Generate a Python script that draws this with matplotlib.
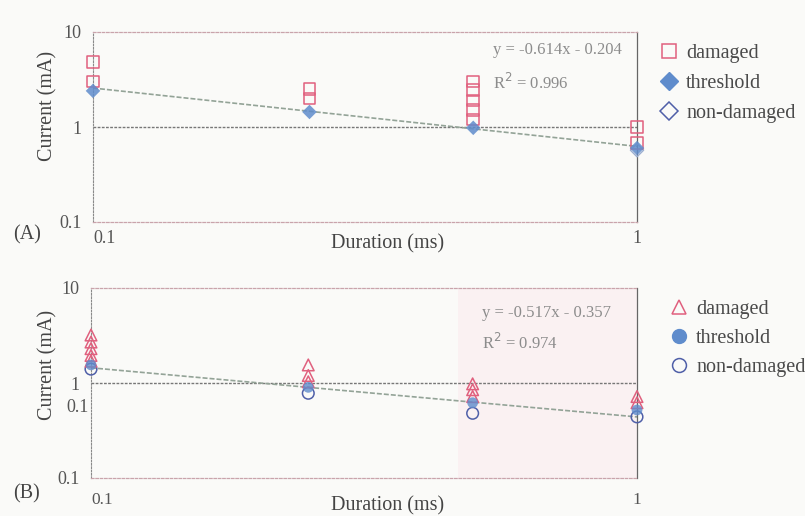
import numpy as np
import matplotlib
matplotlib.use("Agg")
import matplotlib.pyplot as plt
from matplotlib.lines import Line2D

plt.rcParams['font.family'] = ['Liberation Serif', 'DejaVu Serif']

# ---------------- data ----------------
durations = [0.1, 0.25, 0.5, 1.0]

# Panel A
a_dam_x = [0.1, 0.1, 0.25, 0.25, 0.5, 0.5, 0.5, 0.5, 0.5, 1.0, 1.0]
a_dam_y = [4.8, 3.0, 2.5, 2.0, 3.0, 2.45, 1.9, 1.5, 1.2, 1.0, 0.68]
a_thr_y = [2.4, 1.44, 0.98, 0.6]
a_non_x = [1.0]
a_non_y = [0.57]
a_slope, a_icpt = -0.614, -0.204
a_eq = ["y = -0.614x - 0.204", "R$^2$ = 0.996"]

# Panel B
b_dam_x = [0.1, 0.1, 0.1, 0.1, 0.1, 0.25, 0.25, 0.25, 0.5, 0.5, 0.5, 1.0, 1.0]
b_dam_y = [3.2, 2.7, 2.3, 1.95, 1.7, 1.55, 1.2, 1.03, 0.98, 0.85, 0.72, 0.72, 0.62]
b_thr_y = [1.55, 0.9, 0.62, 0.52]
b_non_y = [1.4, 0.78, 0.48, 0.44]
b_slope, b_icpt = -0.517, -0.357
b_eq = ["y = -0.517x - 0.357", "R$^2$ = 0.974"]

legend_labels = ["damaged", "threshold", "non-damaged"]

# ---------------- style ----------------
W, H = 805, 516
PINK = '#e0607e'
BLUE = '#5f8ccc'
NAVY = '#4f5fa8'
TXT = '#555555'
TREND = '#93a397'
BG = '#fafaf8'

fig = plt.figure(figsize=(W / 100, H / 100), dpi=100, facecolor=BG)


def fx(px):
    return px / W


def fy(py):
    return 1 - py / H


def make_axes(left, right, top, bottom):
    ax = fig.add_axes([fx(left), fy(bottom), fx(right) - fx(left), fy(top) - fy(bottom)])
    ax.set_facecolor(BG)
    ax.set_xscale('log')
    ax.set_yscale('log')
    ax.set_xlim(0.1, 1)
    ax.set_ylim(0.1, 10)
    for s in ['top', 'bottom']:
        ax.spines[s].set_linestyle((0, (2, 1.5)))
        ax.spines[s].set_color('#c9a3ab')
        ax.spines[s].set_linewidth(0.9)
    ax.spines['left'].set_linestyle((0, (1.5, 1.5)))
    ax.spines['left'].set_color('#8a8a8a')
    ax.spines['left'].set_linewidth(0.8)
    ax.spines['right'].set_color('#666666')
    ax.spines['right'].set_linewidth(0.9)
    ax.minorticks_off()
    ax.set_yticks([0.1, 1, 10])
    ax.set_yticklabels(['0.1', '1', '10'])
    ax.set_xticks([0.1, 1])
    ax.set_xticklabels(['0.1', '1'])
    ax.tick_params(axis='both', length=0, colors=TXT, labelsize=13)
    ax.tick_params(axis='y', pad=8)
    return ax


def common(ax, thr_y, slope, icpt):
    # reference line at 1 mA
    ax.axhline(1, color='#777777', lw=1.0, ls=(0, (2, 1)), zorder=1)
    # trend line (log-log fit)
    xs = np.array([durations[0], durations[-1]])
    ys = 10 ** (slope * np.log10(xs) + icpt)
    ax.plot(xs, ys, color=TREND, lw=1.2, ls=(0, (3, 1.2)), zorder=2)


# ---------------- Panel A ----------------
axA = make_axes(93, 637, 32, 222)
common(axA, a_thr_y, a_slope, a_icpt)
axA.scatter(a_dam_x, a_dam_y, marker='s', s=70, facecolors='none',
            edgecolors=PINK, linewidths=1.1, zorder=4, clip_on=False)
axA.scatter(durations, a_thr_y, marker='D', s=55, color=BLUE, alpha=0.85,
            edgecolors='none', zorder=5, clip_on=False)
axA.scatter(a_non_x, a_non_y, marker='D', s=45, facecolors='none',
            edgecolors='#9aaed0', linewidths=1.0, zorder=3, clip_on=False)
axA.tick_params(axis='x', pad=6)
for lbl in axA.get_xticklabels():
    if lbl.get_text() == '0.1':
        lbl.set_ha('left')
axA.text(fx(493), fy(50), a_eq[0], transform=fig.transFigure, fontsize=12,
         color='#8c8c8c', va='center', ha='left')
axA.text(fx(493), fy(83), a_eq[1], transform=fig.transFigure, fontsize=12,
         color='#8c8c8c', va='center', ha='left')

hA = [Line2D([], [], marker='s', ls='none', ms=10, mfc='none', mec=PINK, mew=1.1),
      Line2D([], [], marker='D', ls='none', ms=9, color=BLUE, mec=BLUE),
      Line2D([], [], marker='D', ls='none', ms=9, mfc='none', mec=NAVY, mew=1.1)]
legA = fig.legend(hA, legend_labels, loc='upper left',
                  bbox_to_anchor=(fx(660), fy(44)), frameon=False,
                  fontsize=14.5, handlelength=0.9, handletextpad=0.4,
                  labelspacing=0.55, borderpad=0, borderaxespad=0)
for t in legA.get_texts():
    t.set_color('#4a4a4a')

fig.text(fx(13), fy(235), "(A)", fontsize=14.5, color='#444444', va='center', ha='left')
fig.text(fx(388), fy(244), "Duration (ms)", fontsize=14.5, color='#444444',
         va='center', ha='center')
fig.text(fx(48), fy(106), "Current (mA)", fontsize=14.5, color='#444444',
         va='center', ha='center', rotation=90)

# ---------------- Panel B ----------------
axB = make_axes(91, 637, 288, 478)
axB.axvspan(0.47, 1.0, color='#fbecef', alpha=0.6, zorder=0, lw=0)
common(axB, b_thr_y, b_slope, b_icpt)
axB.scatter(b_dam_x, b_dam_y, marker='^', s=70, facecolors='none',
            edgecolors=PINK, linewidths=1.1, zorder=4, clip_on=False)
axB.scatter(durations, b_non_y, marker='o', s=70, facecolors='none',
            edgecolors=NAVY, linewidths=1.1, zorder=3, clip_on=False)
axB.scatter(durations, b_thr_y, marker='o', s=60, color=BLUE, alpha=0.8,
            edgecolors='none', zorder=5, clip_on=False)
axB.tick_params(axis='x', pad=10, labelsize=12.5)
for lbl in axB.get_xticklabels():
    if lbl.get_text() == '0.1':
        lbl.set_ha('left')
# stray tick label printed below "1" in the original
fig.text(fx(89), fy(407), "0.1", fontsize=13, color=TXT, va='center', ha='right')
axB.text(fx(482), fy(313), b_eq[0], transform=fig.transFigure, fontsize=12,
         color='#8c8c8c', va='center', ha='left')
axB.text(fx(482), fy(343), b_eq[1], transform=fig.transFigure, fontsize=12,
         color='#8c8c8c', va='center', ha='left')

hB = [Line2D([], [], marker='^', ls='none', ms=10, mfc='none', mec=PINK, mew=1.1),
      Line2D([], [], marker='o', ls='none', ms=10, color=BLUE, mec=BLUE),
      Line2D([], [], marker='o', ls='none', ms=10, mfc='none', mec=NAVY, mew=1.1)]
legB = fig.legend(hB, legend_labels, loc='upper left',
                  bbox_to_anchor=(fx(670), fy(300)), frameon=False,
                  fontsize=14.5, handlelength=0.9, handletextpad=0.4,
                  labelspacing=0.5, borderpad=0, borderaxespad=0)
for t in legB.get_texts():
    t.set_color('#4a4a4a')

fig.text(fx(13), fy(494), "(B)", fontsize=14.5, color='#444444', va='center', ha='left')
fig.text(fx(388), fy(506), "Duration (ms)", fontsize=14.5, color='#444444',
         va='center', ha='center')
fig.text(fx(48), fy(365), "Current (mA)", fontsize=14.5, color='#444444',
         va='center', ha='center', rotation=90)

fig.savefig("out.png", dpi=100, facecolor=BG)
